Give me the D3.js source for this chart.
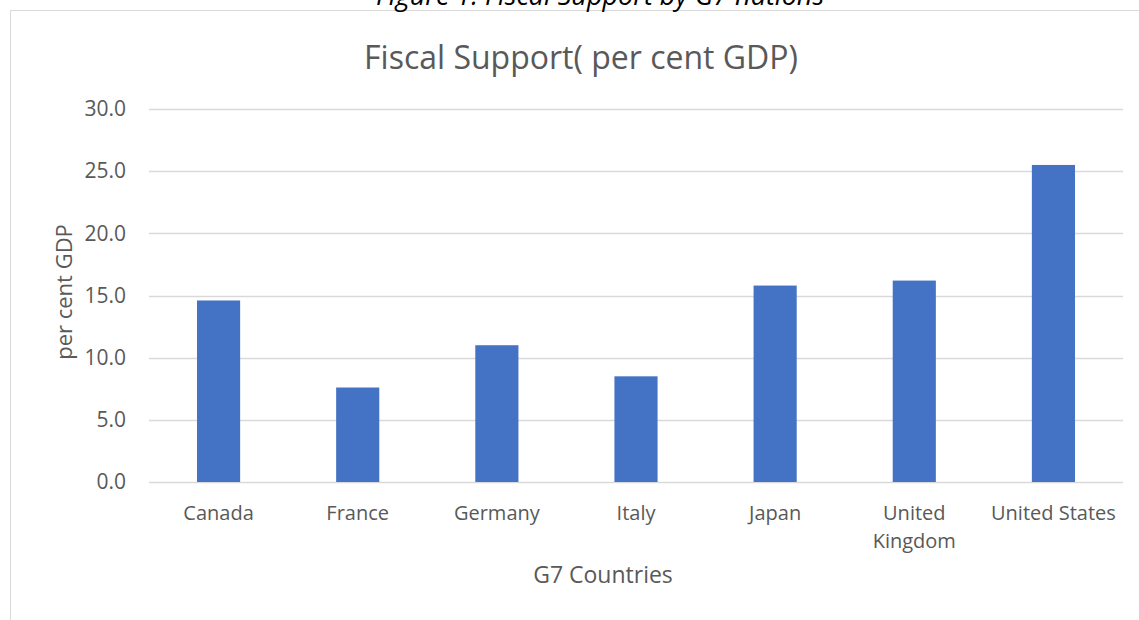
<!DOCTYPE html>
<html>
  <head>
    <style>
    body {
      font-family: "Open Sans", sans-serif;
      margin: 0;
      background: #fff;
    }
    </style>
  </head>
  <body>
    <script src="https://d3js.org/d3.v7.min.js"></script>
    <script>
    var width = 1139, height = 620;

    // data
    var countries = ["Canada", "France", "Germany", "Italy", "Japan", "United Kingdom", "United States"];
    var support = [14.6, 7.6, 11.0, 8.5, 15.8, 16.2, 25.5];
    var yTicks = [0, 5, 10, 15, 20, 25, 30];

    var margin = {top: 109, right: 16, bottom: 138, left: 149};
    var innerW = width - margin.left - margin.right,
        innerH = height - margin.top - margin.bottom;

    var svg = d3.select("body").append("svg")
        .attr("width", width)
        .attr("height", height);

    // chart frame (top + left edges visible)
    svg.append("line")
        .attr("x1", 10).attr("x2", width).attr("y1", 10.5).attr("y2", 10.5)
        .attr("stroke", "#d9d9d9");
    svg.append("line")
        .attr("x1", 10.5).attr("x2", 10.5).attr("y1", 10).attr("y2", height)
        .attr("stroke", "#d9d9d9");

    // caption above the chart, cut off by the page top
    svg.append("text")
        .attr("x", 600).attr("y", 5)
        .attr("text-anchor", "middle")
        .style("font-style", "italic")
        .style("font-size", "27px")
        .attr("fill", "#000")
        .text("Figure 1: Fiscal Support by G7 nations");

    svg.append("text")
        .attr("x", 581).attr("y", 69)
        .attr("text-anchor", "middle")
        .style("font-size", "32px")
        .attr("fill", "#595959")
        .text("Fiscal Support( per cent GDP)");

    var g = svg.append("g")
        .attr("transform", "translate(" + margin.left + "," + margin.top + ")");

    var x = d3.scaleBand().domain(countries).range([0, innerW]).paddingInner(0.69).paddingOuter(0.345);
    var y = d3.scaleLinear().domain([0, 30]).range([innerH, 0]);

    // gridlines
    g.append("g")
        .selectAll("line")
        .data(yTicks)
        .enter().append("line")
        .attr("x1", 0).attr("x2", innerW)
        .attr("y1", function(d) { return Math.round(y(d)) + 0.5; })
        .attr("y2", function(d) { return Math.round(y(d)) + 0.5; })
        .attr("stroke", "#d9d9d9")
        .attr("stroke-width", 1.3);

    // y axis labels
    var yAxis = g.append("g")
        .call(d3.axisLeft(y).tickValues(yTicks).tickFormat(d3.format(".1f")).tickSize(0).tickPadding(23));
    yAxis.select(".domain").remove();
    yAxis.selectAll("text")
        .style("font-family", "'Open Sans', sans-serif")
        .style("font-size", "21px")
        .attr("fill", "#595959");

    // bars
    g.selectAll("rect.bar")
        .data(support)
        .enter().append("rect")
        .attr("class", "bar")
        .attr("x", function(d, i) { return x(countries[i]); })
        .attr("width", x.bandwidth())
        .attr("y", function(d) { return y(d); })
        .attr("height", function(d) { return innerH - y(d); })
        .attr("fill", "#4472c4");

    // x axis labels, wrapping long names like Excel does
    var xLab = g.append("g").attr("transform", "translate(0," + innerH + ")");
    countries.forEach(function(c) {
      var lines = c === "United Kingdom" ? ["United", "Kingdom"] : [c];
      var t = xLab.append("text")
          .attr("x", x(c) + x.bandwidth() / 2)
          .attr("y", 38)
          .attr("text-anchor", "middle")
          .style("font-size", "20px")
          .attr("fill", "#595959");
      lines.forEach(function(l, k) {
        t.append("tspan")
            .attr("x", x(c) + x.bandwidth() / 2)
            .attr("dy", k === 0 ? 0 : 28)
            .text(l);
      });
    });

    // axis titles
    svg.append("text")
        .attr("x", 603).attr("y", 583)
        .attr("text-anchor", "middle")
        .style("font-size", "23px")
        .attr("fill", "#595959")
        .text("G7 Countries");

    svg.append("text")
        .attr("transform", "translate(72,292) rotate(-90)")
        .attr("text-anchor", "middle")
        .style("font-size", "22px")
        .attr("fill", "#595959")
        .text("per cent GDP");
    </script>
  </body>
</html>
